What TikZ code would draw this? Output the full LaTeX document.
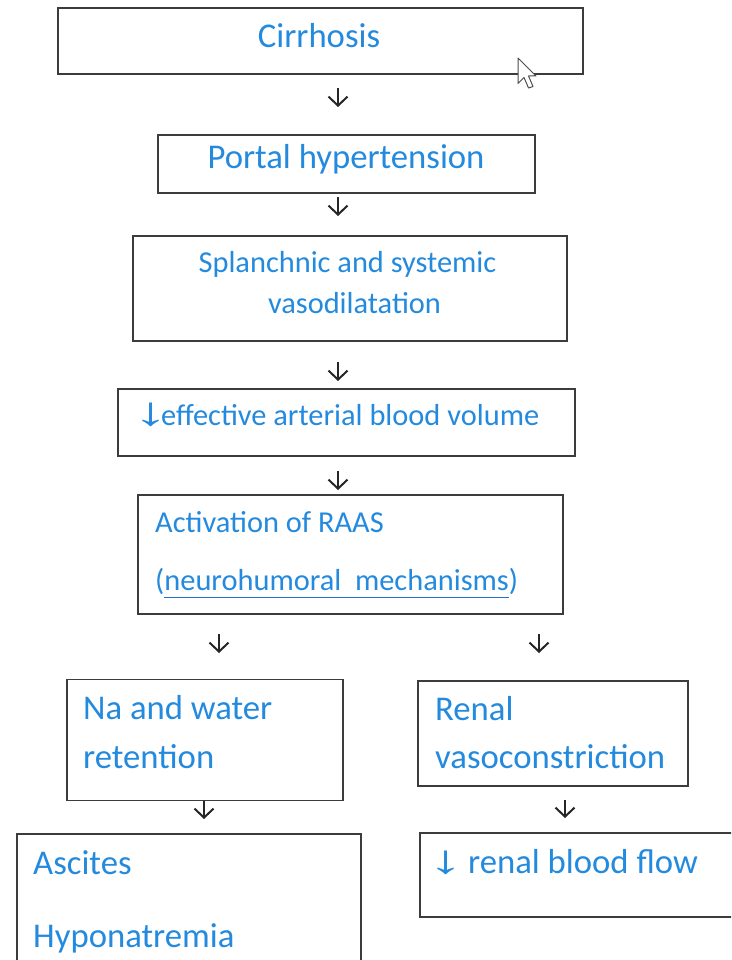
\documentclass[tikz,border=0pt]{standalone}
\usepackage{graphicx}
\usepackage{fontspec}
\setmainfont{Carlito}
\newfontfamily\arrowfont{Liberation Sans}[UprightFont=*-Bold]
\usetikzlibrary{arrows.meta}
\definecolor{txtblue}{RGB}{36,138,222}
\definecolor{ulblue}{RGB}{40,110,200}
\definecolor{boxgray}{RGB}{60,60,60}
\newcommand\myul[1]{\setbox0\hbox{#1}\rlap{\color{ulblue}\rule[-8pt]{\wd0}{1.3pt}}\box0}
\newcommand\bigtxt{\fontsize{34.7pt}{40pt}\selectfont}
\newcommand\smalltxt{\fontsize{30.4pt}{36pt}\selectfont}
% blue down arrow as text: #1 = twice the offset of its centre, #2 = offset of the following word
\newcommand\darr[2]{\makebox[#2][l]{\makebox[#1][c]{\scalebox{1.75}[1]{\fontsize{40pt}{40pt}\arrowfont\char"2193}}}}
\begin{document}
\begin{tikzpicture}[x=1pt,y=-1pt,
  box/.style={draw=boxgray,line width=1.6pt,inner sep=0pt},
  lbl/.style={text=txtblue,inner sep=0pt},
  conn/.style={line width=2pt,draw=black!85,-{Straight Barb[length=9pt,width=19pt,line width=2pt]}}]
\clip (0,0) rectangle (731,960);
\fill[white] (0,0) rectangle (731,960);
% boxes
\node[box,minimum width=525pt,minimum height=66pt] (b1) at (320.5,41) {};
\node[box,minimum width=377pt,minimum height=58pt] (b2) at (346.5,164) {};
\node[box,minimum width=434pt,minimum height=105pt] (b3) at (350,288.5) {};
\node[box,minimum width=457pt,minimum height=67pt] (b4) at (346.5,422.5) {};
\node[box,minimum width=425pt,minimum height=119pt] (b5) at (350.5,554.5) {};
\node[box,minimum width=276pt,minimum height=121pt] (b6) at (205,740) {};
\node[box,minimum width=270pt,minimum height=105pt] (b7) at (553,733.5) {};
\node[box,minimum width=344pt,minimum height=160pt] (b8) at (189,914) {};
\node[box,minimum width=340pt,minimum height=84pt] (b9) at (590,875) {};
% texts
\node[lbl,anchor=base] (t1) at (319,48) {\bigtxt Cirrhosis};
\node[lbl,anchor=base] (t2) at (346,168) {\bigtxt Portal hypertension};
\node[lbl,anchor=base] (t3a) at (347.5,272) {\smalltxt Splanchnic and systemic};
\node[lbl,anchor=base] (t3b) at (354.5,313) {\smalltxt vasodilatation};
\node[lbl,anchor=base west] (t4) at (141,425) {\smalltxt\darr{19pt}{20pt}effective arterial blood volume};
\node[lbl,anchor=base west] (t5a) at (155,532) {\smalltxt Activation of RAAS};
\node[lbl,anchor=base west] (t5b) at (155,590) {\smalltxt (\myul{neurohumoral\hspace{0.45em}mechanisms})};
\node[lbl,anchor=base west] (t6a) at (83,719) {\bigtxt Na and water};
\node[lbl,anchor=base west] (t6b) at (83,768) {\bigtxt retention};
\node[lbl,anchor=base west] (t7a) at (435,720) {\bigtxt Renal};
\node[lbl,anchor=base west] (t7b) at (435,768) {\bigtxt vasoconstriction};
\node[lbl,anchor=base west] (t8a) at (33,874) {\bigtxt Ascites};
\node[lbl,anchor=base west] (t8b) at (33,947) {\bigtxt Hyponatremia};
\node[lbl,anchor=base west] (t9) at (436,873) {\bigtxt\darr{20pt}{32pt}renal blood flow};
% connectors
\coordinate (c1a) at (338,88);  \coordinate (c1b) at (338,107);
\coordinate (c2a) at (338,197); \coordinate (c2b) at (338,216);
\coordinate (c3a) at (338,362); \coordinate (c3b) at (338,381);
\coordinate (c4a) at (338,471); \coordinate (c4b) at (338,490);
\coordinate (c5a) at (219,634); \coordinate (c5b) at (219,653);
\coordinate (c6a) at (539,634); \coordinate (c6b) at (539,653);
\coordinate (c7a) at (204,801); \coordinate (c7b) at (204,819);
\coordinate (c8a) at (565,800); \coordinate (c8b) at (565,818);
\foreach \i in {1,...,8} {\draw[conn] (c\i a) -- (c\i b);}
% mouse cursor
\filldraw[fill=white,draw=black!70,line width=1pt,line join=round]
  (518,58) -- (518,83.5) -- (524,77.5) -- (528.5,88) -- (533,86.5) -- (528.5,76) -- (536,76) -- cycle;
\end{tikzpicture}
\end{document}
